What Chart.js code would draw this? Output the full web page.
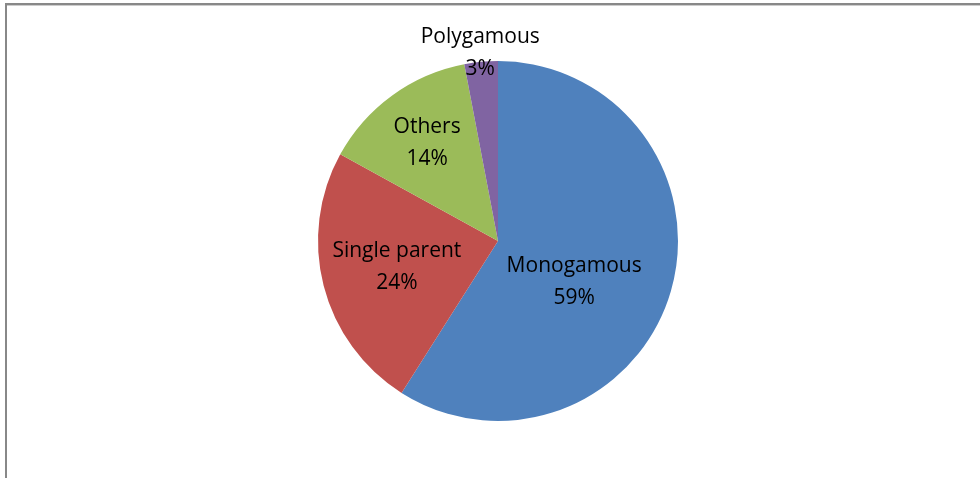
<!DOCTYPE html>
<html>
<head>
<meta charset="utf-8">
<script src="https://cdn.jsdelivr.net/npm/chart.js@4"></script>
<style>
  html, body { margin: 0; padding: 0; background: #fff; }
  #wrap { position: relative; width: 980px; height: 478px; }
  #frame { position: absolute; left: 5px; top: 3px; right: 0; bottom: 0;
           border-left: 2px solid #888; border-top: 2px solid #888; }
  #frame:after { content: ""; position: absolute; left: 0; right: 0; top: 0; height: 1px; background: #ccc; }
</style>
</head>
<body>
<div id="wrap">
  <div id="frame"></div>
  <canvas id="c" width="980" height="478" style="position:absolute;left:0;top:0"></canvas>
</div>
<script>
const categories = ["Monogamous", "Single parent", "Others", "Polygamous"];
const percents = [59, 24, 14, 3];
const colours = ["#4F81BD", "#C0504D", "#9BBB59", "#8064A2"];
// where each label sits: fraction of radius, and turn (deg) off the slice middle
const labelRadius = [0.48, 0.58, 0.67, 1.05];
const labelTurn = [12, 0, 0, 0];

const labelsPlugin = {
  id: "pieLabels",
  afterDatasetsDraw(chart) {
    const ctx = chart.ctx;
    const meta = chart.getDatasetMeta(0);
    ctx.save();
    ctx.font = "21px 'Open Sans'";
    ctx.fillStyle = "#000";
    ctx.textAlign = "center";
    ctx.textBaseline = "middle";
    meta.data.forEach((arc, i) => {
      const mid = (arc.startAngle + arc.endAngle) / 2 + labelTurn[i] * Math.PI / 180;
      const r = arc.outerRadius * labelRadius[i];
      const x = arc.x + Math.cos(mid) * r;
      const y = arc.y + Math.sin(mid) * r;
      ctx.fillText(categories[i], x, y - 16);
      ctx.fillText(percents[i] + "%", x, y + 16);
    });
    ctx.restore();
  }
};

new Chart(document.getElementById("c"), {
  type: "pie",
  data: {
    labels: categories,
    datasets: [{ data: percents, backgroundColor: colours, borderWidth: 0 }]
  },
  options: {
    responsive: false,
    animation: false,
    layout: { padding: { left: 318, right: 302, top: 61, bottom: 57 } },
    plugins: { legend: { display: false }, tooltip: { enabled: false } }
  },
  plugins: [labelsPlugin]
});
</script>
</body>
</html>
